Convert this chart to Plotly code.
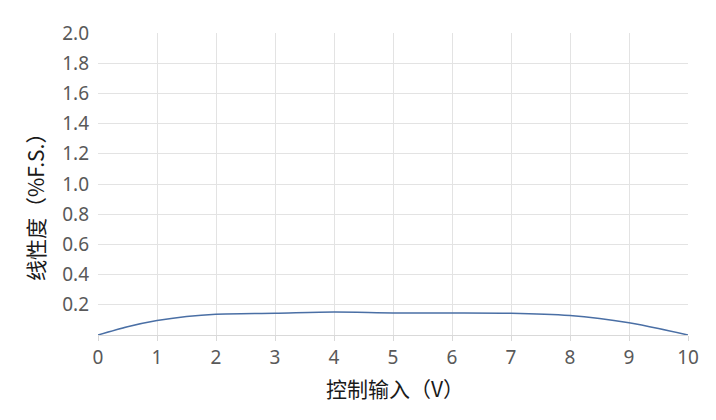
import plotly.graph_objects as go

x_vals = [0, 0.5, 1, 1.5, 2, 3, 4, 5, 6, 7, 8, 8.5, 9, 9.5, 10]
y_vals = [0.0, 0.055, 0.096, 0.123, 0.138, 0.144, 0.152, 0.146, 0.146, 0.144, 0.129, 0.110, 0.081, 0.043, 0.0]
x_ticks = list(range(0, 11))
y_ticks = [0.2, 0.4, 0.6, 0.8, 1.0, 1.2, 1.4, 1.6, 1.8, 2.0]
x_title = "控制输入（V）"
y_title = "线性度（%F.S.）"

tick_font = "Noto Sans, Open Sans, sans-serif"
title_font = "Noto Sans CJK SC, sans-serif"

fig = go.Figure()
fig.add_trace(go.Scatter(
    x=x_vals, y=y_vals, mode="lines",
    line=dict(color="#4a6fa5", width=1.5, shape="spline", smoothing=0.8),
    hoverinfo="skip", showlegend=False,
))

fig.update_layout(
    width=716, height=420,
    margin=dict(l=90, r=36, t=22, b=93),
    paper_bgcolor="white", plot_bgcolor="white",
    font=dict(family=tick_font, color="#595959", size=19),
    xaxis=dict(
        range=[0, 10], tickvals=x_ticks, ticktext=[str(v) for v in x_ticks],
        showgrid=True, gridcolor="#e3e3e3", gridwidth=1,
        zeroline=False, showline=True, linecolor="#d9d9d9", linewidth=1,
        ticks="outside", ticklen=5, tickcolor="#d9d9d9",
        tickfont=dict(family=tick_font, size=19, color="#595959"),
    ),
    yaxis=dict(
        range=[0, 2.0], tickvals=y_ticks, ticktext=[f"{v:.1f}" for v in y_ticks],
        showgrid=True, gridcolor="#e3e3e3", gridwidth=1,
        zeroline=False, showline=False,
        ticks="", ticklabelstandoff=8,
        tickfont=dict(family=tick_font, size=19, color="#595959"),
    ),
    annotations=[
        dict(text=x_title, xref="paper", yref="paper", x=0.503, y=-0.174,
             xanchor="center", yanchor="middle", showarrow=False,
             font=dict(family=title_font, size=21, color="#1a1a1a")),
        dict(text=y_title, xref="paper", yref="paper", x=-0.107, y=0.44,
             xanchor="center", yanchor="middle", showarrow=False, textangle=-90,
             font=dict(family=title_font, size=21, color="#1a1a1a")),
    ],
)

fig.write_html("out.html")
